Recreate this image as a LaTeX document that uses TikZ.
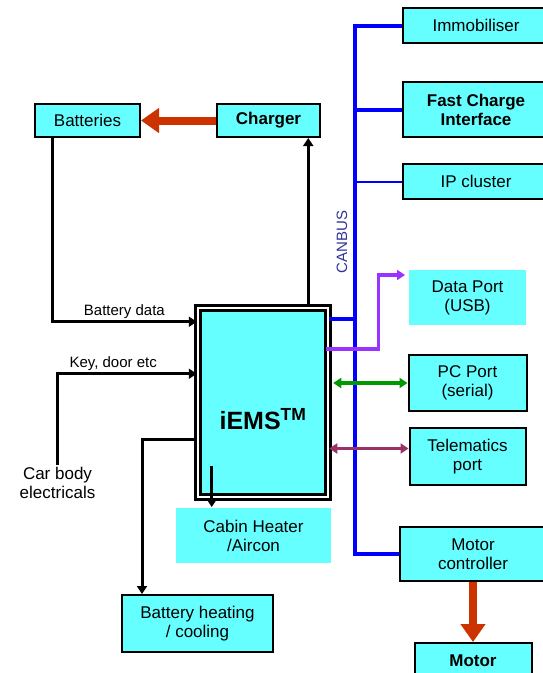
\documentclass[tikz,border=0pt]{standalone}
\usepackage{fontspec}
\setmainfont{Liberation Sans}
\usepackage{tikz}
\usetikzlibrary{arrows.meta,positioning,calc}
\definecolor{boxcyan}{HTML}{66FFFF}
\definecolor{busblue}{HTML}{0000FF}
\definecolor{pwrred}{HTML}{CC3300}
\definecolor{usbpurple}{HTML}{9933FF}
\definecolor{serialgreen}{HTML}{009900}
\definecolor{telemaroon}{HTML}{993366}
\definecolor{cantext}{HTML}{333399}

\begin{document}
\begin{tikzpicture}[x=1pt,y=-1pt,>={Triangle[length=8pt,width=10pt]},
  blk/.style={draw,line width=2pt,fill=boxcyan,align=center,inner sep=0pt,font=\fontsize{17}{19}\selectfont},
  bblk/.style={blk,font=\fontsize{17}{19}\selectfont\bfseries},
  bareblk/.style={blk,draw=none},
  sig/.style={line width=3pt},
  csig/.style={line width=3.5pt},
  bus/.style={draw=busblue,line width=4pt},
  pwr/.style={draw=pwrred,line width=8pt,-{Triangle[length=18pt,width=24pt]}},
  lbl/.style={font=\fontsize{15}{17}\selectfont,inner sep=2pt},
  node distance=25pt]
\useasboundingbox (0,0) rectangle (542,673);
% bus side
\node[blk,minimum width=146pt,minimum height=35pt] (immo) at (476,25.5) {Immobiliser};
\node[bblk,minimum width=146pt,minimum height=55pt,below=37pt of immo] (fci) {Fast Charge\\Interface};
\node[blk,minimum width=146pt,minimum height=35pt,below=of fci] (ipc) {IP cluster};
\node[bareblk,minimum width=117pt,minimum height=55pt] (data) at (467.5,297.5) {Data Port\\(USB)};
\node[blk,minimum width=118pt,minimum height=56pt,below=28pt of data] (pcp) {PC Port\\(serial)};
\node[blk,minimum width=116pt,minimum height=57pt,below=15pt of pcp] (tele) {Telematics\\port};
\node[blk,minimum width=146pt,minimum height=54pt] (mctl) at (473,554) {Motor\\controller};
\node[bblk,minimum width=117pt,minimum height=36pt,below=60pt of mctl] (motor) {Motor};
% left side
\node[blk,minimum width=105pt,minimum height=33pt] (batt) at (87.5,120.5) {Batteries};
\node[bblk,minimum width=103pt,minimum height=33pt] (chg) at (268.5,120.5) {Charger};
\node[blk,line width=2.5pt,double=white,double distance=2.5pt,minimum width=130pt,minimum height=189pt,
  label={[font=\fontsize{25}{28}\selectfont\bfseries,yshift=-17pt]center:iEMS\textsuperscript{TM}}] (iems) at (263,402.5) {};
\node[bareblk,minimum width=155pt,minimum height=55pt] (cabin) at (253.5,535.5) {Cabin Heater\\/Aircon};
\node[blk,minimum width=151pt,minimum height=57pt] (bheat) at (197.5,623.5) {Battery heating\\/ cooling};
\node[align=center,font=\fontsize{17}{19}\selectfont,inner sep=2pt] (carbody) at (57.5,483) {Car body\\electricals};
% CAN bus
\coordinate (bus) at (355,0);
\draw[bus] (immo.west) -| (bus |- mctl.west) -- (mctl.west);
\draw[bus] (fci.west) -- (fci.west -| bus);
\draw[busblue,line width=2pt] (ipc.west) -- (ipc.west -| bus);
\draw[bus] ($(iems.north east)+(0,12)$) -- ($(iems.north east -| bus)+(0,12)$);
\node[text=cantext,rotate=90,font=\fontsize{15}{17}\selectfont] (canlbl) at (342,242) {CANBUS};
% signals
\draw[sig,->] ([xshift=18pt]batt.south west) |- ($(iems.north west)+(0,15)$) node[lbl,pos=0.75,above] {Battery data};
\draw[sig,->] ([xshift=-21pt]iems.north east) -- ([xshift=-21pt]iems.north east |- chg.south);
\draw[sig,->] (carbody.north) |- ($(iems.north west)+(0,67)$) node[lbl,pos=0.7,above] {Key, door etc};
\draw[sig,->] ($(iems.north west)+(0,133)$) -| ([xshift=21pt]bheat.north west);
\draw[sig,->] ([xshift=15pt,yshift=32pt]iems.south west) -- ([xshift=15pt]iems.south west |- cabin.north);
\draw[csig,usbpurple,->] ($(iems.north east)+(-3,42)$) -- ++(52,0) |- ($(data.north west)+(-3,6)$);
\draw[csig,serialgreen,<->] (pcp.west) -- (pcp.west -| iems.east) [shorten >=4pt];
\draw[csig,telemaroon,<->] ($(tele.west)+(0,-8)$) -- ($(tele.west -| iems.east)+(0,-8)$);
% power
\draw[pwr] (chg.west) -- (batt.east);
\draw[pwr] (mctl.south) -- (motor.north);
\end{tikzpicture}
\end{document}
